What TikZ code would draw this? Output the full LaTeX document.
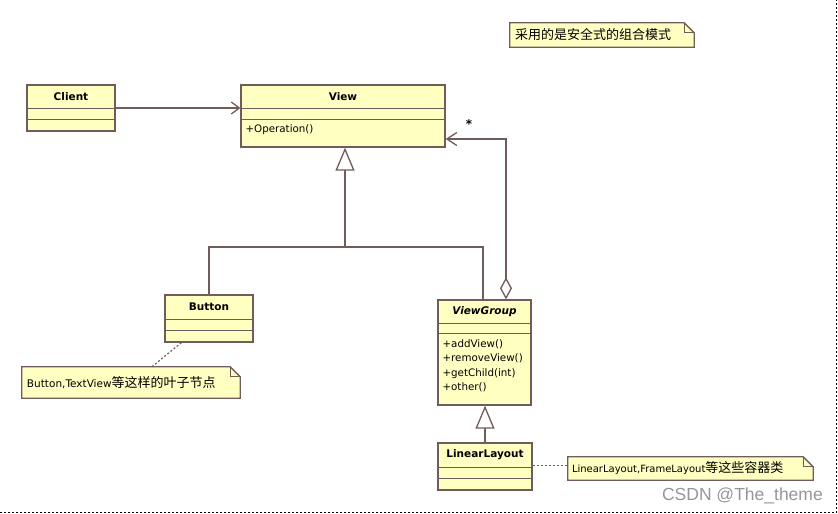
\documentclass[tikz,border=0pt]{standalone}
\usepackage{fontspec}
\setmainfont{DejaVu Sans}
\newfontfamily\cjk{Noto Sans CJK SC}
\newfontfamily\markfont{Liberation Sans}
\usetikzlibrary{arrows.meta,calc}

\definecolor{umlfill}{RGB}{255,255,194}
\definecolor{umlline}{RGB}{112,92,90}
\definecolor{wmark}{RGB}{150,150,150}

\begin{document}
\begin{tikzpicture}[x=1pt, y=-1pt,
	cls/.style={draw=umlline, fill=umlfill, line width=1.3pt, inner sep=0pt},
	clsname/.style={font=\fontsize{10.5}{12}\selectfont\bfseries, inner sep=0pt},
	ops/.style={font=\fontsize{10.3}{14.5}\selectfont, align=left, anchor=north west, inner sep=0pt},
	notetext/.style={font=\cjk\fontsize{13}{15}\selectfont, inner sep=0pt, anchor=west},
	rel/.style={draw=umlline, line width=1.3pt},
	gen/.style={rel, -{Triangle[open, width=19pt, length=23pt, fill=white]}},
	nav/.style={rel, -{Straight Barb[length=8pt, width=12pt]}},
	link/.style={draw=umlline, line width=1.2pt, dash pattern=on 2pt off 2pt}]
	\useasboundingbox (0,0) rectangle (838,514);
	% classes
	\node [cls, minimum width=88pt, minimum height=46pt] (client) at (71,108) {};
	\node [cls, minimum width=204pt, minimum height=62pt] (view) at (343,116) {};
	\node [cls, minimum width=88pt, minimum height=47pt] (button) at (209,318.5) {};
	\node [cls, minimum width=93pt, minimum height=105pt] (viewgroup) at (484.5,352.5) {};
	\node [cls, minimum width=94pt, minimum height=47pt] (linear) at (485,466.5) {};
	\foreach \c/\a/\b in {client/24/35, view/24/35, button/25/36, viewgroup/24/34, linear/25/36} {
		\draw [umlline, line width=1.3pt] ($(\c.north west)+(0,\a)$) -- ($(\c.north east)+(0,\a)$);
		\draw [umlline, line width=1.3pt] ($(\c.north west)+(0,\b)$) -- ($(\c.north east)+(0,\b)$);
	}
	\node [clsname] (clientname) at ($(client.north)+(0,12)$) {Client};
	\node [clsname] (viewname) at ($(view.north)+(0,12)$) {View};
	\node [clsname] (buttonname) at ($(button.north)+(0,12.5)$) {Button};
	\node [clsname, font=\fontsize{10.5}{12}\selectfont\bfseries\itshape] (viewgroupname) at ($(viewgroup.north)+(0,12)$) {ViewGroup};
	\node [clsname] (linearname) at ($(linear.north)+(0,12.5)$) {LinearLayout};
	\node [ops] (viewops) at ($(view.north west)+(5,40)$) {+Operation()};
	\node [ops] (viewgroupops) at ($(viewgroup.north west)+(5,40)$) {+addView()\\+removeView()\\+getChild(int)\\+other()};
	% notes
	\node [minimum width=184pt, minimum height=24pt, inner sep=0pt] (topnote) at (602,35) {};
	\node [minimum width=218pt, minimum height=31pt, inner sep=0pt] (buttonnote) at (131,382.5) {};
	\node [minimum width=245pt, minimum height=23pt, inner sep=0pt] (linearnote) at (690.5,468.5) {};
	\foreach \n in {topnote, buttonnote, linearnote} {
		\draw [umlline, fill=umlfill, line width=1.3pt] (\n.north west) -- ($(\n.north east)+(-10,0)$) -- ($(\n.north east)+(0,10)$) -- (\n.south east) -- (\n.south west) -- cycle;
		\draw [umlline, line width=1.1pt] ($(\n.north east)+(-10,0)$) |- ($(\n.north east)+(0,10)$);
	}
	\node [notetext] (toptext) at ($(topnote.west)+(5,0)$) {采用的是安全式的组合模式};
	\node [notetext] (buttontext) at ($(buttonnote.west)+(5,0)$) {{\fontspec{DejaVu Sans}\fontsize{10.5}{12}\selectfont Button,TextView}等这样的叶子节点};
	\node [notetext] (lineartext) at ($(linearnote.west)+(4,0)$) {{\fontspec{DejaVu Sans}\fontsize{10}{12}\selectfont LinearLayout,FrameLayout}等这些容器类};
	% relations
	\draw [nav] (client.east) -- (client.east -| view.west);
	\coordinate (join) at (345,247);
	\draw [rel] (button.north) |- (join) -| ($(viewgroup.north)+(-1.5,0)$);
	\draw [gen] (join) -- (join |- view.south);
	\coordinate (agg) at (506,139);
	\draw [rel, {Diamond[open, width=12pt, length=22pt, fill=white]}-{Straight Barb[length=10pt, width=13pt]}] (viewgroup.north -| agg) -- (agg) -- (agg -| view.east);
	\node [font=\fontsize{12}{12}\selectfont\bfseries, inner sep=0pt] (many) at (469,124) {*};
	\draw [gen] (linear.north) -- (linear.north |- viewgroup.south);
	\draw [link] ($(button.south west)+(17,0)$) -- ($(buttonnote.north west)+(130,0)$);
	\draw [link] ($(linear.east)+(0,-1)$) -- ($(linearnote.west)+(0,-3)$);
	% watermark and frame
	\node [font=\markfont\fontsize{17.5}{20}\selectfont, text=wmark, anchor=east, inner sep=0pt] (mark) at (823,496) {CSDN @The\_theme};
	\draw [black, line width=1.5pt, dash pattern=on 2pt off 2pt] (0,512.5) -- (836.5,512.5) -- (836.5,0);
\end{tikzpicture}
\end{document}
